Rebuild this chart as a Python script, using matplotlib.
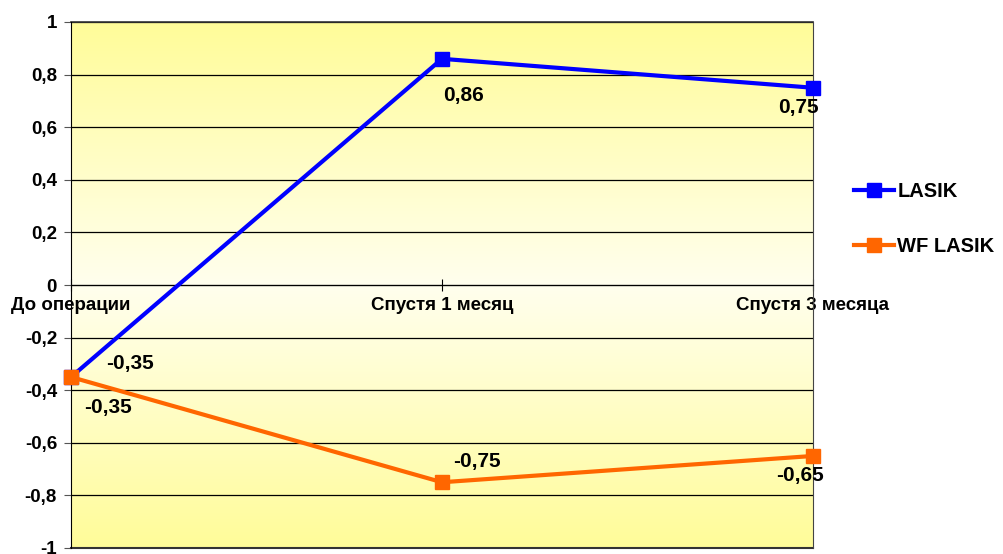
import numpy as np
import matplotlib
matplotlib.use("Agg")
import matplotlib.pyplot as plt
from matplotlib.colors import LinearSegmentedColormap

# data
categories = ["До операции", "Спустя 1 месяц", "Спустя 3 месяца"]
lasik = [-0.35, 0.86, 0.75]
wf_lasik = [-0.35, -0.75, -0.65]
lasik_labels = ["-0,35", "0,86", "0,75"]
wf_labels = ["-0,35", "-0,75", "-0,65"]
yticks = [-1, -0.8, -0.6, -0.4, -0.2, 0, 0.2, 0.4, 0.6, 0.8, 1]
ytick_labels = ["-1", "-0,8", "-0,6", "-0,4", "-0,2", "0", "0,2", "0,4", "0,6", "0,8", "1"]

# label offsets in pixels
lasik_offsets = [(59, 14), (21, -37), (-15, -20)]
wf_offsets = [(37, -30), (35, 21), (-13, -20)]

plt.rcParams['font.family'] = ['Liberation Sans', 'DejaVu Sans']
plt.rcParams['font.weight'] = 'bold'

fig = plt.figure(figsize=(10.04, 5.54), dpi=100)
ax = fig.add_axes([71 / 1004, 6 / 554, 742 / 1004, 526 / 554])

x = np.arange(len(categories))

# yellow gradient background: yellow at edges, almost white near the middle
cmap = LinearSegmentedColormap.from_list("bg", ["#fffc99", "#ffffee", "#fffc99"])
grad = np.linspace(0, 1, 256).reshape(-1, 1)
ax.imshow(grad, cmap=cmap, aspect='auto', extent=[0, 2, -1, 1], zorder=0, origin='lower')

ax.set_xlim(0, 2)
ax.set_ylim(-1, 1)

ax.set_yticks(yticks)
ax.set_yticklabels(ytick_labels, fontsize=13.5, fontweight='bold')
ax.yaxis.grid(True, color='black', linewidth=0.9, zorder=1)
ax.set_axisbelow(True)
ax.tick_params(axis='y', direction='out', length=5, color='#555555', pad=5)

ax.spines['bottom'].set_position(('data', 0))
ax.spines['bottom'].set_color('black')
ax.spines['top'].set_visible(False)
ax.spines['right'].set_color('#444444')
ax.spines['left'].set_color('black')
ax.set_xticks(x)
ax.set_xticklabels(categories, fontsize=13.5, fontweight='bold')
ax.tick_params(axis='x', direction='inout', length=8, color='black', pad=5)
ax.axhline(-1, color='#333333', linewidth=1.5, clip_on=False, zorder=2)
ax.axhline(1, color='#333333', linewidth=1.2, clip_on=False, zorder=2)

ax.plot(x, lasik, color='#0000ff', linewidth=3, marker='s', markersize=10,
        label='LASIK', clip_on=False, zorder=4)
ax.plot(x, wf_lasik, color='#ff6600', linewidth=3, marker='s', markersize=10,
        label='WF LASIK', clip_on=False, zorder=5)

for xi, yi, lab, off in zip(x, lasik, lasik_labels, lasik_offsets):
    ax.annotate(lab, (xi, yi), xytext=off, textcoords='offset pixels',
                ha='center', va='center', fontsize=15, fontweight='bold', zorder=6)
for xi, yi, lab, off in zip(x, wf_lasik, wf_labels, wf_offsets):
    ax.annotate(lab, (xi, yi), xytext=off, textcoords='offset pixels',
                ha='center', va='center', fontsize=15, fontweight='bold', zorder=6)

fig.legend(loc='center left', bbox_to_anchor=(836 / 1004, (554 - 219) / 554),
           frameon=False, labelspacing=1.75, handlelength=2.0,
           handletextpad=0.15, markerscale=0.95, prop={'weight': 'bold', 'size': 14.5})

fig.savefig("out.png", dpi=100)
